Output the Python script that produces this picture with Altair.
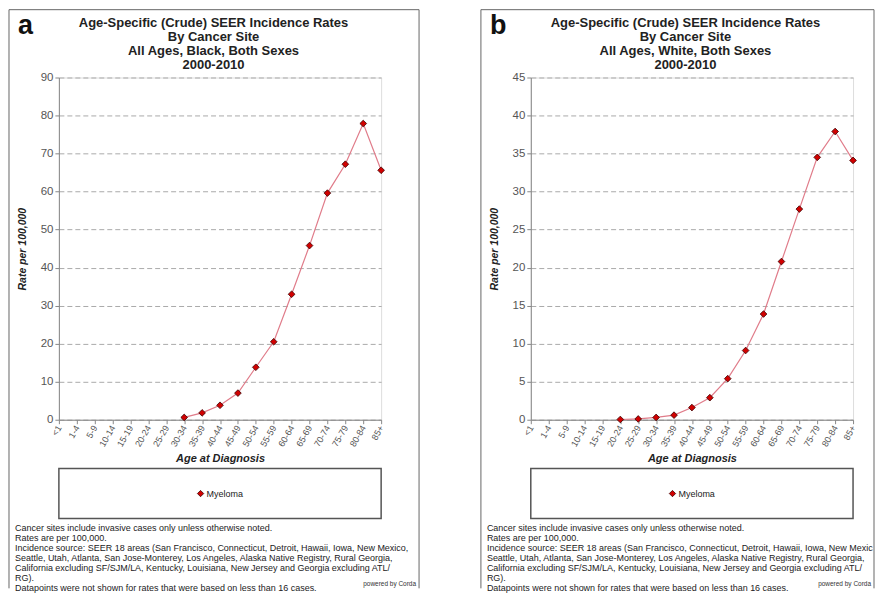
import altair as alt
import pandas as pd

ages = ["<1", "1-4", "5-9", "10-14", "15-19", "20-24", "25-29", "30-34", "35-39",
        "40-44", "45-49", "50-54", "55-59", "60-64", "65-69", "70-74", "75-79",
        "80-84", "85+"]
rates_black = [None, None, None, None, None, None, None, 0.6, 1.8, 3.8, 7.0, 13.8,
               20.5, 33.0, 45.8, 59.6, 67.2, 77.9, 65.6]
rates_white = [None, None, None, None, None, 0.03, 0.1, 0.3, 0.6, 1.6, 2.9, 5.4,
               9.1, 13.9, 20.8, 27.7, 34.5, 37.9, 34.1]
series = ["Myeloma"]
title_a = ["Age-Specific (Crude) SEER Incidence Rates", "By Cancer Site",
           "All Ages, Black, Both Sexes", "2000-2010"]
title_b = ["Age-Specific (Crude) SEER Incidence Rates", "By Cancer Site",
           "All Ages, White, Both Sexes", "2000-2010"]
footnotes = [
    "Cancer sites include invasive cases only unless otherwise noted.",
    "Rates are per 100,000.",
    "Incidence source: SEER 18 areas (San Francisco, Connecticut, Detroit, Hawaii, Iowa, New Mexico,",
    "Seattle, Utah, Atlanta, San Jose-Monterey, Los Angeles, Alaska Native Registry, Rural Georgia,",
    "California excluding SF/SJM/LA, Kentucky, Louisiana, New Jersey and Georgia excluding ATL/",
    "RG).",
    "Datapoints were not shown for rates that were based on less than 16 cases.",
]
credit = "powered by Corda"

FONT = "Liberation Sans"
W, H = 323, 343
LINE_COLOR = "#e07c8a"
PT_FILL = "#d10000"
PT_STROKE = "#3a0000"


def panel(letter, titles, rates, ymax, step, right_edge, note_limit):
    df = pd.DataFrame({"age": ages, "rate": rates, "series": series[0]})
    one = alt.Data(values=[{"series": series[0]}])

    x = alt.X("age:O", sort=ages,
              scale=alt.Scale(type="point", domain=ages, padding=0),
              axis=alt.Axis(title="Age at Diagnosis", labelAngle=-60, labelAlign="right",
                            labelBaseline="middle", labelFontSize=9, labelColor="#555",
                            labelPadding=2, tickSize=4, tickColor="#888", domainColor="#888",
                            titleFontSize=11, titleFontWeight="bold", titleFontStyle="italic",
                            titleColor="#222", titleY=33, grid=False))
    y = alt.Y("rate:Q", scale=alt.Scale(domain=[0, ymax], nice=False, zero=True),
              axis=alt.Axis(values=list(range(0, ymax + 1, step)), grid=True,
                            gridDash=[5, 3], gridColor="#aaaaaa", gridWidth=1,
                            labelFontSize=11.5, labelColor="#555", labelPadding=2,
                            tickSize=4, tickColor="#888", domainColor="#888",
                            title="Rate per 100,000", titleFontSize=10.5,
                            titleFontWeight="bold", titleFontStyle="italic",
                            titleColor="#222", titleX=-31))

    base = alt.Chart(df).encode(x=x, y=y)
    line = base.mark_line(color=LINE_COLOR, strokeWidth=1.2)
    pts = base.mark_point(shape="diamond", filled=True, size=45, fill=PT_FILL,
                          stroke=PT_STROKE, strokeWidth=0.8, opacity=1)

    bottom = 512
    b_top = alt.Chart(one).mark_rule(color="#666", strokeWidth=1).encode(
        x=alt.value(-50), x2=alt.value(right_edge), y=alt.value(-68))
    b_left = alt.Chart(one).mark_rule(color="#666", strokeWidth=1).encode(
        x=alt.value(-50), y=alt.value(-68), y2=alt.value(bottom))
    b_right = alt.Chart(one).mark_rule(color="#666", strokeWidth=1).encode(
        x=alt.value(right_edge), y=alt.value(-68), y2=alt.value(bottom))

    legbox = alt.Chart(one).mark_rect(fill="white", stroke="#555", strokeWidth=1.5).encode(
        x=alt.value(0), x2=alt.value(W), y=alt.value(392), y2=alt.value(442))
    legsym = alt.Chart(one).mark_point(shape="diamond", filled=True, size=40, fill=PT_FILL,
                                       stroke=PT_STROKE, strokeWidth=0.8, opacity=1).encode(
        x=alt.value(142), y=alt.value(417))
    legtxt = alt.Chart(one).mark_text(align="left", baseline="middle", fontSize=9,
                                      color="#222", font=FONT).encode(
        x=alt.value(148), y=alt.value(417.5), text="series:N")
    let = alt.Chart(one).mark_text(text=letter, align="left", baseline="top",
                                   fontSize=27, fontWeight="bold", color="#111",
                                   font=FONT).encode(x=alt.value(-41), y=alt.value(-65))
    ttl = alt.Chart(one).mark_text(text=titles, align="center", baseline="top",
                                   fontSize=13, fontWeight="bold", lineHeight=14.3,
                                   color="#222", font=FONT).encode(
        x=alt.value(155), y=alt.value(-61))
    notes = alt.Chart(one).mark_text(text=footnotes, align="left", baseline="top",
                                     fontSize=9, lineHeight=9.9, color="#222", font=FONT,
                                     limit=note_limit, ellipsis="\u200b").encode(
        x=alt.value(-44), y=alt.value(448))
    cred = alt.Chart(one).mark_text(text=credit, align="right", baseline="middle",
                                    fontSize=6.5, color="#333", font=FONT).encode(
        x=alt.value(right_edge - 3), y=alt.value(508))

    return alt.layer(b_top, b_left, b_right, legbox, line, pts, legsym, legtxt, let, ttl,
                     notes, cred).properties(width=W, height=H)


chart = alt.hconcat(
    panel("a", title_a, rates_black, 90, 10, 361, 420),
    panel("b", title_b, rates_white, 45, 5, 344, 388),
    spacing=60, padding=0,
).configure_view(stroke="#777", strokeWidth=1.5).configure(font=FONT)

chart.save("out.html", embed_options={"renderer": "svg", "actions": False})
